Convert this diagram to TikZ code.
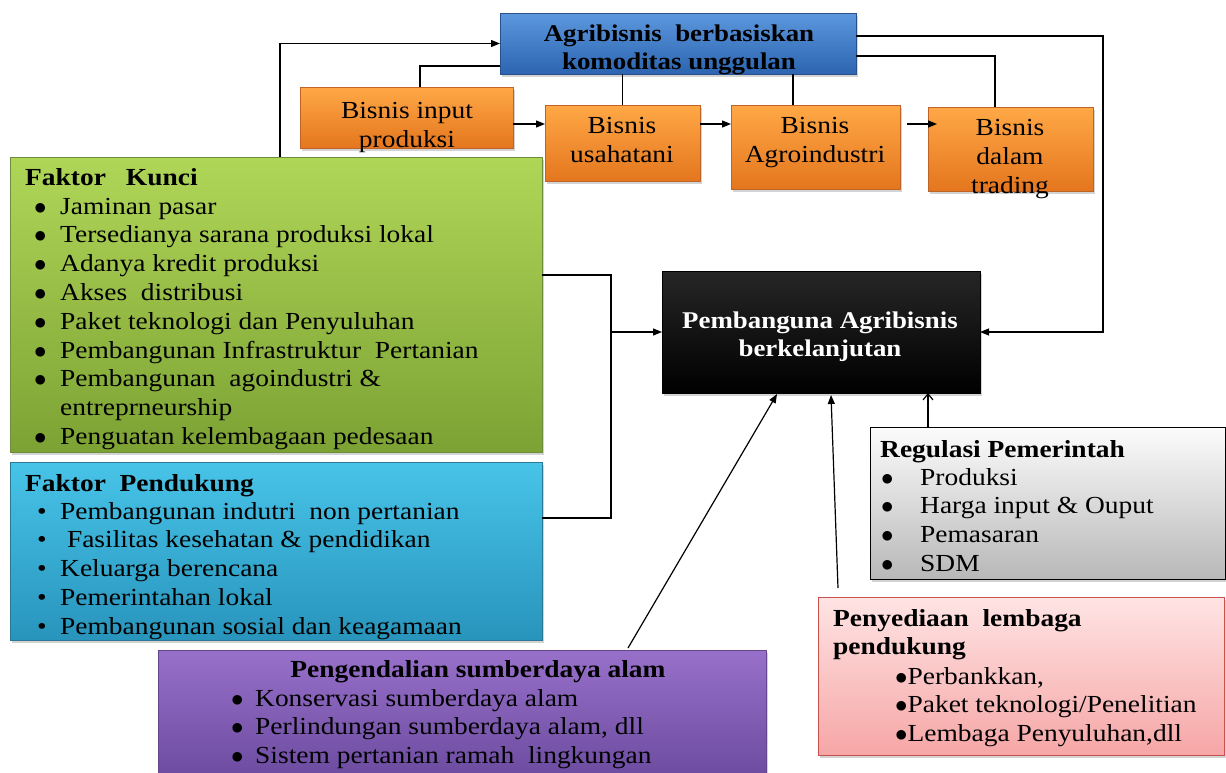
\documentclass[tikz,border=0pt]{standalone}
\usepackage{fontspec}
\setmainfont{Liberation Serif}[FakeStretch=1.12]
\usetikzlibrary{arrows.meta,shadows,calc}
\definecolor{blueT}{RGB}{92,152,222}
\definecolor{blueB}{RGB}{44,100,176}
\definecolor{blueD}{RGB}{40,80,140}
\definecolor{oraT}{RGB}{255,168,70}
\definecolor{oraB}{RGB}{228,118,30}
\definecolor{oraD}{RGB}{190,100,40}
\definecolor{grnT}{RGB}{176,214,88}
\definecolor{grnB}{RGB}{124,162,52}
\definecolor{grnD}{RGB}{110,140,60}
\definecolor{cyaT}{RGB}{72,196,232}
\definecolor{cyaB}{RGB}{40,148,188}
\definecolor{cyaD}{RGB}{40,120,150}
\definecolor{purT}{RGB}{152,112,202}
\definecolor{purB}{RGB}{108,76,160}
\definecolor{purD}{RGB}{100,70,140}
\definecolor{gryT}{RGB}{252,252,252}
\definecolor{gryB}{RGB}{184,184,184}
\definecolor{pnkT}{RGB}{255,228,228}
\definecolor{pnkB}{RGB}{246,166,166}
\definecolor{pnkD}{RGB}{200,80,78}
\newcommand\myfs{\fontsize{24.5}{28.8}\selectfont}
\newcommand\myfo{\fontsize{24.5}{29}\selectfont}
\newcommand\myfb{\fontsize{24}{28}\selectfont}
\newcommand\bbl{\makebox[26pt][l]{$\bullet$}}
\newcommand\sbl{\makebox[26pt][l]{\hspace{3pt}\textbullet}}
\newcommand\pbl{\makebox[24pt][l]{$\bullet$}}
\newcommand\gbl{\makebox[39pt][l]{$\bullet$}}
\tikzset{
  box/.style={anchor=north west, inner sep=0pt, outer sep=0pt, line width=0.8pt,
    drop shadow={opacity=0.35, shadow xshift=2pt, shadow yshift=-3pt}},
  txt/.style={inner sep=0pt, anchor=base west, font=\myfs},
  ctxt/.style={inner sep=0pt, anchor=base, font=\myfo},
  ln/.style={draw=black, line width=1.2pt},
  arr/.style={ln, -{Triangle[length=9pt,width=7pt]}},
  oarr/.style={ln, -{Straight Barb[length=6pt,width=10pt]}},
}
\begin{document}
\begin{tikzpicture}[x=1pt,y=-1pt]
\useasboundingbox (0,0) rectangle (1226,772);
% boxes
\node[box, draw=blueD, top color=blueT, bottom color=blueB, minimum width=356pt, minimum height=61pt] (blue) at (500,13) {};
\node[box, draw=oraD, top color=oraT, bottom color=oraB, minimum width=213pt, minimum height=61pt] (inp) at (300,87) {};
\node[box, draw=oraD, top color=oraT, bottom color=oraB, minimum width=155pt, minimum height=76pt] (usa) at (545,105) {};
\node[box, draw=oraD, top color=oraT, bottom color=oraB, minimum width=169pt, minimum height=84pt] (agro) at (731,105) {};
\node[box, draw=oraD, top color=oraT, bottom color=oraB, minimum width=165pt, minimum height=84pt] (trad) at (928,107) {};
\node[box, draw=grnD, top color=grnT, bottom color=grnB, minimum width=532pt, minimum height=295pt] (green) at (10,157) {};
\node[box, draw=cyaD, top color=cyaT, bottom color=cyaB, minimum width=532pt, minimum height=178pt] (cyan) at (10,462) {};
\node[box, draw=black, top color=black!85, bottom color=black, minimum width=318pt, minimum height=122pt] (black) at (662,271) {};
\node[box, draw=black, top color=gryT, bottom color=gryB, minimum width=355pt, minimum height=152pt] (gray) at (870,427) {};
\node[box, draw=purD, top color=purT, bottom color=purB, minimum width=608pt, minimum height=126pt] (purple) at (158,650) {};
\node[box, draw=pnkD, top color=pnkT, bottom color=pnkB, minimum width=406pt, minimum height=158pt] (pink) at (818,597) {};
% texts
\node[ctxt, font=\myfb\bfseries] (tblue) at (679,41) {\begin{tabular}[t]{@{}c@{}}Agribisnis\ \ berbasiskan\\komoditas unggulan\end{tabular}};
\node[ctxt] (tinp) at (407,118) {\begin{tabular}[t]{@{}c@{}}Bisnis input\\produksi\end{tabular}};
\node[ctxt] (tusa) at (622,133) {\begin{tabular}[t]{@{}c@{}}Bisnis\\usahatani\end{tabular}};
\node[ctxt] (tagro) at (815,133) {\begin{tabular}[t]{@{}c@{}}Bisnis\\Agroindustri\end{tabular}};
\node[ctxt] (ttrad) at (1010,135) {\begin{tabular}[t]{@{}c@{}}Bisnis\\dalam\\trading\end{tabular}};
\node[ctxt, font=\myfb\bfseries, text=white] (tblack) at (820,328) {\begin{tabular}[t]{@{}c@{}}Pembanguna Agribisnis\\berkelanjutan\end{tabular}};
% green
\node[txt, font=\myfs\bfseries] (tgreenh) at (25,185) {Faktor\hspace{20pt}Kunci};
\node[txt] (tgreen) at (34,214) {\begin{tabular}[t]{@{}l@{}}
\bbl Jaminan pasar\\
\bbl Tersedianya sarana produksi lokal\\
\bbl Adanya kredit produksi\\
\bbl Akses\ \ distribusi\\
\bbl Paket teknologi dan Penyuluhan\\
\bbl Pembangunan Infrastruktur\ \ Pertanian\\
\bbl Pembangunan\ \ agoindustri \&\\
\hspace{26pt}entreprneurship\\
\bbl Penguatan kelembagaan pedesaan
\end{tabular}};
% cyan
\node[txt, font=\myfs\bfseries] (tcyanh) at (25,491) {Faktor\ \ Pendukung};
\node[txt] (tcyan) at (34,519) {\begin{tabular}[t]{@{}l@{}}
\sbl Pembangunan indutri\ \ non pertanian\\
\sbl\ Fasilitas kesehatan \& pendidikan\\
\sbl Keluarga berencana\\
\sbl Pemerintahan lokal\\
\sbl Pembangunan sosial dan keagamaan
\end{tabular}};
% purple
\node[ctxt, font=\myfs\bfseries] (tpurh) at (478,677) {Pengendalian sumberdaya alam};
\node[txt] (tpur) at (231,706) {\begin{tabular}[t]{@{}l@{}}
\pbl Konservasi sumberdaya alam\\
\pbl Perlindungan sumberdaya alam, dll\\
\pbl Sistem pertanian ramah\ \ lingkungan
\end{tabular}};
% gray
\node[txt, font=\myfs\bfseries] (tgryh) at (880,457) {Regulasi Pemerintah};
\node[txt] (tgry) at (881,485) {\begin{tabular}[t]{@{}l@{}}
\gbl Produksi\\
\gbl Harga input \& Ouput\\
\gbl Pemasaran\\
\gbl SDM
\end{tabular}};
% pink
\node[txt, font=\myfs\bfseries] (tpnkh) at (833,626) {\begin{tabular}[t]{@{}l@{}}Penyediaan\ \ lembaga\\pendukung\end{tabular}};
\node[txt] (tpnk) at (895,684) {\begin{tabular}[t]{@{}l@{}}
$\bullet$Perbankkan,\\
$\bullet$Paket teknologi/Penelitian\\
$\bullet$Lembaga\ Penyuluhan,dll
\end{tabular}};
% connectors
\draw[arr] ([xshift=270pt]green.north west) |- (blue.west);
\draw[ln] ([xshift=120pt]inp.north west) |- ([yshift=-22.5pt]blue.west);
\draw[ln] (usa.north) -- (usa.north |- blue.south);
\coordinate (agtop) at ($(agro.north)+(-22.5,0)$);
\draw[ln] (agtop) -- (agtop |- blue.south);
\coordinate (trtop) at ($(trad.north)+(-15.5,0)$);
\draw[ln] ($(blue.east)+(0,12.5)$) -| (trtop);
\coordinate (rc) at (1103,36);
\draw[arr] ($(blue.east)+(0,-7.5)$) -- (rc) |- (black.east);
\draw[arr] ($(inp.east)+(0,6.5)$) -- ($(inp.east -| usa.west)+(0,6.5)$);
\draw[arr] ($(usa.east)+(0,-19)$) -- ($(usa.east -| agro.west)+(0,-19)$);
\draw[arr] ($(agro.east)+(7,-23)$) -- ($(agro.east -| trad.west)+(9,-23)$);
\coordinate (jn) at (611,332);
\draw[ln] ($(green.north east)+(0,118)$) -| ($(cyan.north east)+(69,56)$) -- ($(cyan.north east)+(0,56)$);
\draw[arr] (jn) -- (black.west);
\draw[arr] ($(purple.north west)+(470,-2)$) -- ($(black.south west)+(115,1)$);
\draw[arr] ($(pink.north west)+(20,-9)$) -- ($(black.south west)+(169,2)$);
\coordinate (gtp) at ($(gray.north west)+(58,0)$);
\draw[oarr] (gtp) -- (gtp |- black.south);
\end{tikzpicture}
\end{document}
